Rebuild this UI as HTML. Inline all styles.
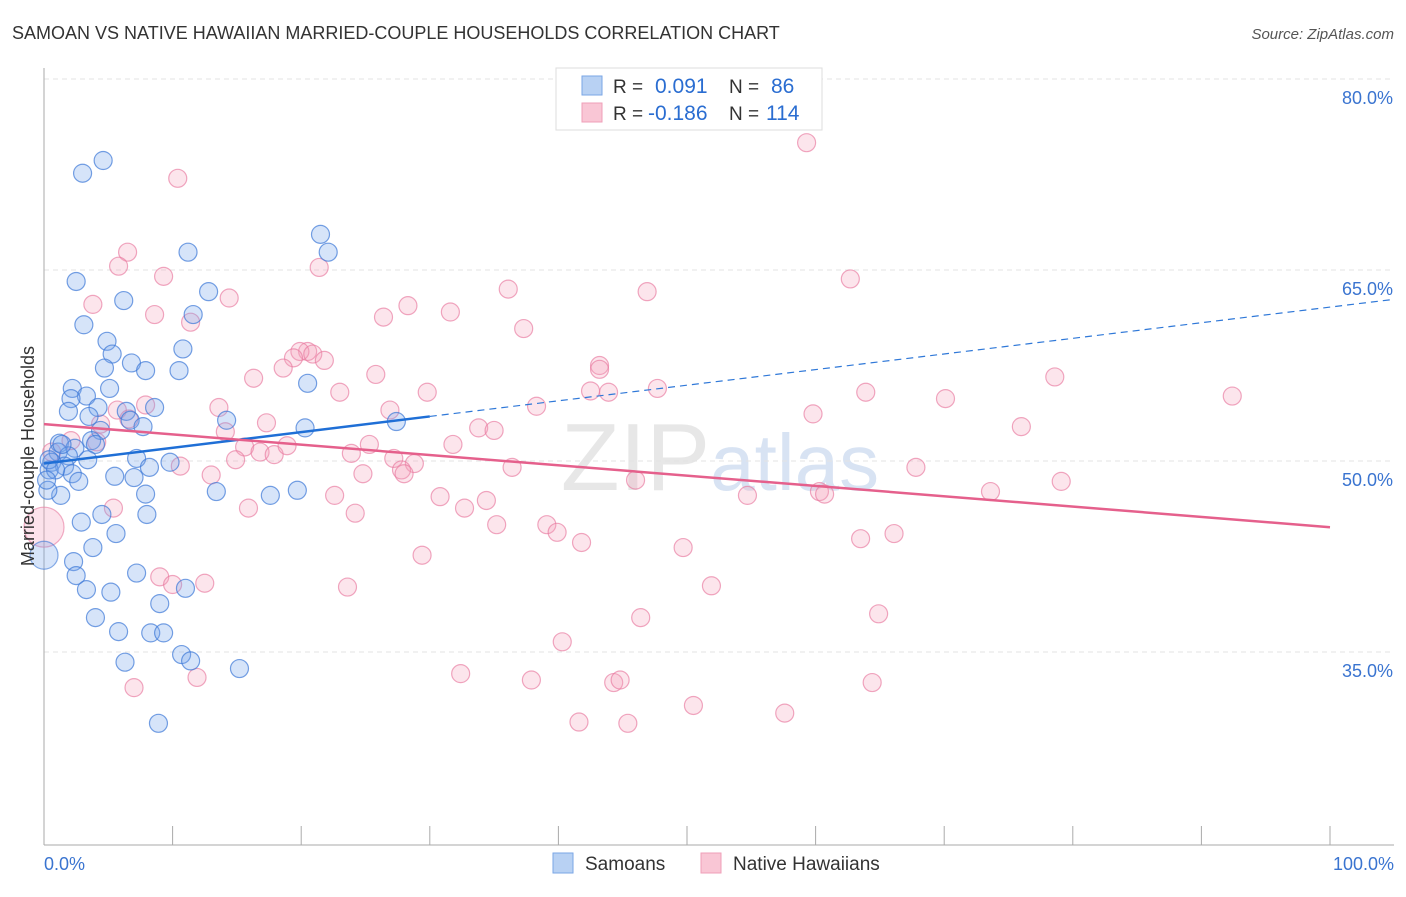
<!DOCTYPE html>
<html><head><meta charset="utf-8"><style>
body{margin:0;background:#fff;font-family:"Liberation Sans",sans-serif;}
svg text{font-family:"Liberation Sans",sans-serif;}
</style></head><body>
<svg id="chart" width="1406" height="892" xmlns="http://www.w3.org/2000/svg">
<text x="12" y="39" font-size="18" fill="#333">SAMOAN VS NATIVE HAWAIIAN MARRIED-COUPLE HOUSEHOLDS CORRELATION CHART</text>
<text x="1394" y="39" font-size="15" fill="#555" text-anchor="end" font-style="italic">Source: ZipAtlas.com</text>
<text x="720" y="490" font-size="96" fill="#ddd" text-anchor="middle" font-family="Liberation Serif" opacity="0.7">ZIP<tspan font-family="Liberation Sans" fill="#c8d8ee" font-size="80">atlas</tspan></text>
<g id="grid"></g>
<g id="axes"></g>
<g id="pts"></g>
<g id="lines"></g>
<text transform="translate(34,456) rotate(-90)" font-size="18" fill="#333" text-anchor="middle">Married-couple Households</text>
<text x="44" y="870" font-size="18" fill="#3a74d0">0.0%</text>
<text x="1394" y="870" font-size="18" fill="#3a74d0" text-anchor="end">100.0%</text>
<g>
<rect x="556" y="68" width="266" height="62" fill="#fff" stroke="#ddd"/>
<rect x="582" y="76" width="20" height="19" fill="#b8d1f3" stroke="#7aa6e6"/>
<rect x="582" y="103" width="20" height="19" fill="#f9c6d5" stroke="#ef9fb8"/>
<text x="613" y="93" font-size="19" fill="#333">R =</text>
<text x="655" y="93" font-size="21" fill="#2a6dd1">0.091</text>
<text x="729" y="93" font-size="19" fill="#333">N =</text>
<text x="771" y="93" font-size="21" fill="#2a6dd1">86</text>
<text x="613" y="120" font-size="19" fill="#333">R =</text>
<text x="648" y="120" font-size="21" fill="#2a6dd1">-0.186</text>
<text x="729" y="120" font-size="19" fill="#333">N =</text>
<text x="766" y="120" font-size="21" fill="#2a6dd1">114</text>
</g>
<g>
<rect x="553" y="853" width="20" height="20" fill="#b8d1f3" stroke="#7aa6e6"/>
<text x="585" y="870" font-size="19" fill="#333">Samoans</text>
<rect x="701" y="853" width="20" height="20" fill="#f9c6d5" stroke="#ef9fb8"/>
<text x="733" y="870" font-size="19" fill="#333">Native Hawaiians</text>
</g>
</svg>
<script>
const yTicks=[35,50,65,80];
const yTickLabels=["35.0%","50.0%","65.0%","80.0%"];
const xTicks=[0,10,20,30,40,50,60,70,80,90,100];
const blueX=[4.6,3.0,2.5,11.2,21.5,22.1,6.2,12.8,3.1,11.6,4.9,10.8,5.3,4.7,6.8,7.9,10.5,20.5,2.2,5.1,3.3,2.1,4.2,1.9,6.4,8.6,14.2,3.5,6.7,7.7,27.4,20.3,4.4,3.7,4.0,1.2,2.4,1.1,1.9,0.6,3.4,1.6,7.2,8.2,9.8,0.4,2.2,2.7,7.0,5.5,1.3,7.9,13.4,17.6,19.7,0.3,4.5,2.9,8.0,5.6,3.8,2.3,2.5,7.2,3.3,5.2,11.0,9.0,4.0,5.8,8.3,9.3,10.7,6.3,11.4,15.2,8.9,0.4,0.9,0.2,1.4];
const blueY=[73.6,72.6,64.1,66.4,67.8,66.4,62.6,63.3,60.7,61.5,59.4,58.8,58.4,57.3,57.7,57.1,57.1,56.1,55.7,55.7,55.1,54.9,54.2,53.9,53.9,54.2,53.2,53.5,53.2,52.7,53.1,52.6,52.4,51.6,51.3,51.4,51.0,50.7,50.4,49.9,50.1,49.6,50.2,49.5,49.9,49.3,49.0,48.4,48.7,48.8,47.3,47.4,47.6,47.3,47.7,47.7,45.8,45.2,45.8,44.3,43.2,42.1,41.0,41.2,39.9,39.7,40.0,38.8,37.7,36.6,36.5,36.5,34.8,34.2,34.3,33.7,29.4,50.1,49.3,48.5,51.3];
const blueBigX=[0];
const blueBigY=[42.6];
const pinkX=[59.3,10.4,6.5,5.8,9.3,21.4,62.7,36.1,46.9,3.8,14.4,28.3,31.6,8.6,26.4,11.4,37.3,20.5,19.9,20.9,19.4,21.8,18.6,25.8,16.3,43.2,43.2,47.7,29.8,23.0,42.5,43.9,63.9,70.1,92.4,78.6,7.9,5.7,13.6,26.9,38.3,59.8,17.3,4.4,6.6,14.1,33.8,35.0,15.6,16.8,17.9,18.9,25.3,23.9,31.8,76.0,4.1,2.1,0.6,14.9,27.2,28.8,27.8,36.4,10.6,13.0,24.8,28.0,46.0,67.8,79.1,54.7,60.3,60.7,73.6,22.6,30.8,32.7,34.4,15.9,24.2,5.4,35.2,39.1,39.9,41.8,63.5,66.1,49.7,29.4,9.0,10.0,12.5,23.6,51.9,64.9,46.4,40.3,32.4,37.9,44.3,44.8,64.4,11.9,7.0,50.5,41.6,45.4,57.6];
const pinkY=[75.0,72.2,66.4,65.3,64.5,65.2,64.3,63.5,63.3,62.3,62.8,62.2,61.7,61.5,61.3,60.9,60.4,58.6,58.6,58.4,58.1,57.9,57.3,56.8,56.5,57.5,57.2,55.7,55.4,55.4,55.5,55.4,55.4,54.9,55.1,56.6,54.4,54.0,54.2,54.0,54.3,53.7,53.0,52.9,53.3,52.3,52.6,52.4,51.1,50.7,50.5,51.2,51.3,50.6,51.3,52.7,51.5,51.6,50.7,50.1,50.2,49.8,49.3,49.5,49.6,48.9,49.0,49.0,48.5,49.5,48.4,47.3,47.6,47.4,47.6,47.3,47.2,46.3,46.9,46.3,45.9,46.3,45.0,45.0,44.4,43.6,43.9,44.3,43.2,42.6,40.9,40.3,40.4,40.1,40.2,38.0,37.7,35.8,33.3,32.8,32.6,32.8,32.6,33.0,32.2,30.8,29.5,29.4,30.2];
const pinkBigX=[0];
const pinkBigY=[44.8];
const blueTrend=[[0,49.8],[30,53.5],[105,62.7]];
const pinkTrend=[[0,52.9],[100,44.8]];

const NS="http://www.w3.org/2000/svg";
const X0=44,X1=1330,Y50=461,PPU=12.733;
function sx(v){return X0+(X1-X0)*v/100;}
function sy(v){return Y50-(v-50)*PPU;}
function mk(tag,attrs,parent){const e=document.createElementNS(NS,tag);for(const k in attrs)e.setAttribute(k,attrs[k]);parent.appendChild(e);return e;}
const grid=document.getElementById('grid'),axes=document.getElementById('axes'),pts=document.getElementById('pts'),lines=document.getElementById('lines');
yTicks.forEach((t,i)=>{
  const l=mk('line',{x1:44,x2:1394,y1:sy(t),y2:sy(t),stroke:'#e3e3e3','stroke-dasharray':'5,4'},grid);
  
  
  const tx=mk('text',{x:1393,y:sy(t)+25,'font-size':18,fill:'#3a74d0','text-anchor':'end'},grid);
  tx.textContent=yTickLabels[i];
  
  
});
const ya=mk('line',{x1:44,x2:44,y1:68,y2:845,stroke:'#aaa'},axes);


const xa=mk('line',{x1:44,x2:1394,y1:845,y2:845,stroke:'#aaa'},axes);


xTicks.forEach(t=>{
  const l=mk('line',{x1:sx(t),x2:sx(t),y1:826,y2:845,stroke:'#aaa'},axes);
  
  
});
function dots(xs,ys,r,fill,stroke,name){
  xs.forEach((x,i)=>{
    const c=mk('circle',{cx:sx(x),cy:sy(ys[i]),r:r,fill:fill,stroke:stroke,'stroke-width':1.2},pts);
    
    
  });
}
dots(pinkBigX,pinkBigY,20,'rgba(244,160,188,0.3)','rgba(232,120,158,0.6)','hawaiian-point');
dots(blueBigX,blueBigY,14,'rgba(120,165,235,0.3)','rgba(60,120,215,0.6)','samoan-point');
dots(pinkX,pinkY,9,'rgba(244,160,188,0.28)','rgba(232,120,158,0.65)','hawaiian-point');
dots(blueX,blueY,9,'rgba(120,165,235,0.3)','rgba(60,120,215,0.7)','samoan-point');
const bs=mk('line',{x1:sx(blueTrend[0][0]),y1:sy(blueTrend[0][1]),x2:sx(blueTrend[1][0]),y2:sy(blueTrend[1][1]),stroke:'#1f6fd6','stroke-width':2.5},lines);


const bd=mk('line',{x1:sx(blueTrend[1][0]),y1:sy(blueTrend[1][1]),x2:sx(blueTrend[2][0]),y2:sy(blueTrend[2][1]),stroke:'#2f78d8','stroke-width':1.2,'stroke-dasharray':'7,5'},lines);


const pl=mk('line',{x1:sx(pinkTrend[0][0]),y1:sy(pinkTrend[0][1]),x2:sx(pinkTrend[1][0]),y2:sy(pinkTrend[1][1]),stroke:'#e5608c','stroke-width':2.5},lines);


</script>
</body></html>
